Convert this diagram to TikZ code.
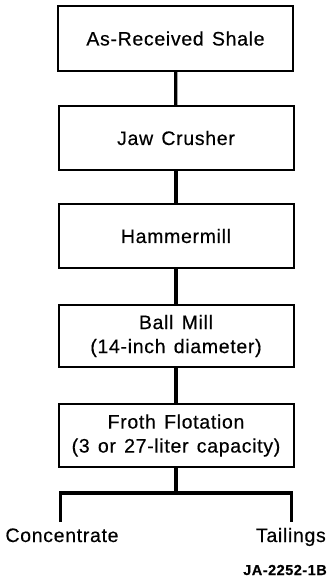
\documentclass[tikz,border=0pt]{standalone}
\usepackage{fontspec}
\setmainfont{Liberation Sans}[LetterSpace=3.5,WordSpace=1.35,FakeBold=0.4]
\begin{document}
\begin{tikzpicture}[x=1pt,y=-1pt,
  stage/.style={draw,line width=2pt,minimum width=235pt,inner sep=0pt,
    align=center,font=\fontsize{19.5}{24}\selectfont},
  link/.style={line width=3.2pt},
  outlbl/.style={font=\fontsize{19.5}{22}\selectfont,inner sep=0pt},
  tag/.style={font=\bfseries\fontsize{14.5}{16}\selectfont,inner sep=0pt}]
\useasboundingbox (0,0) rectangle (330,582);
\node[stage,minimum height=65pt] (s1) at (175.5,38.5) {As-Received Shale};
\node[stage,minimum height=64pt] (s2) at (176,138) {Jaw Crusher};
\node[stage,minimum height=64pt] (s3) at (176,236) {Hammermill};
\node[stage,minimum height=62pt] (s4) at (176,336) {Ball Mill\\(14-inch diameter)};
\node[stage,minimum height=63pt] (s5) at (176,435.5) {Froth Flotation\\(3 or 27-liter capacity)};
\draw[link] (s1) -- (s2);
\draw[link] (s2) -- (s3);
\draw[link] (s3) -- (s4);
\draw[link] (s4) -- (s5);
\coordinate (split) at (176,493);
\coordinate (cl) at (60.5,493);
\coordinate (tl) at (291.5,493);
\node[outlbl,anchor=base] (conc) at (62,542) {Concentrate};
\node[outlbl,anchor=base east] (tail) at (326,542) {Tailings};
\draw[link] (s5) -- (split);
\draw[link] (cl |- conc.north) ++(0,-6) coordinate (cend) -- (cl) -- (tl) -- (tl |- cend);
\node[tag,anchor=base east] (fig) at (327,575) {JA-2252-1B};
\end{tikzpicture}
\end{document}
